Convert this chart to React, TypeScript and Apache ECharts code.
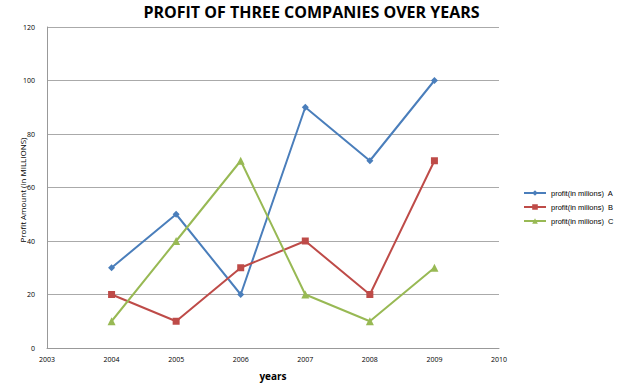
import React, { useEffect, useRef } from "react";
import * as echarts from "echarts";

const years = [2004, 2005, 2006, 2007, 2008, 2009];
const profitA = [30, 50, 20, 90, 70, 100];
const profitB = [20, 10, 30, 40, 20, 70];
const profitC = [10, 40, 70, 20, 10, 30];
const seriesNames = ["profit(in milions)  A", "profit(in milions)  B", "profit(in milions)  C"];
const colors = ["#4A7EBB", "#BE4B48", "#98B954"];

export default function App() {
  const ref = useRef<HTMLDivElement>(null);
  useEffect(() => {
    document.body.style.margin = "0";
    const chart = echarts.init(ref.current!, null, { renderer: "svg" });
    const mk = (vals: number[]) => vals.map((v, i) => [years[i], v]);
    const symbols = ["diamond", "rect", "triangle"];
    const sizes = [7, 7, 8];
    chart.setOption({
      animation: false,
      textStyle: { fontFamily: "Open Sans" },
      title: {
        text: "PROFIT OF THREE COMPANIES OVER YEARS",
        left: "center",
        top: -1,
        textStyle: { fontSize: 16, fontWeight: "bold", color: "#000", fontFamily: "Open Sans" },
      },
      graphic: [
        {
          type: "text",
          x: 22,
          y: 190,
          rotation: Math.PI / 2,
          style: {
            text: "Profit Amount (in MILLIONS)",
            fontSize: 8,
            fontFamily: "Open Sans",
            fill: "#000",
            textAlign: "center",
            textVerticalAlign: "middle",
          },
        },
      ],
      grid: { left: 47, right: 124, top: 27, bottom: 39, containLabel: false, outerBoundsMode: "none" },
      legend: {
        orient: "vertical",
        left: 518,
        top: 184,
        itemGap: 6,
        itemWidth: 22,
        itemHeight: 7,
        textStyle: { fontSize: 7.5, color: "#000", fontFamily: "Liberation Sans" },
        data: seriesNames,
      },
      xAxis: {
        type: "value",
        min: 2003,
        max: 2010,
        interval: 1,
        name: "years",
        nameLocation: "middle",
        nameGap: 23,
        nameTextStyle: { fontSize: 10, fontWeight: "bold", color: "#000" },
        axisLine: { show: true, lineStyle: { color: "#999", width: 1 } },
        axisTick: { show: false },
        splitLine: { show: false },
        axisLabel: { fontSize: 7, color: "#000", margin: 8, formatter: (v: number) => String(v) },
      },
      yAxis: {
        type: "value",
        min: 0,
        max: 120,
        interval: 20,
        axisLine: { show: true, lineStyle: { color: "#999", width: 1 } },
        axisTick: { show: false },
        splitLine: { show: true, lineStyle: { color: "#aaa", width: 1 } },
        axisLabel: { fontSize: 7, color: "#000", margin: 12 },
      },
      series: [profitA, profitB, profitC].map((d, i) => ({
        name: seriesNames[i],
        type: "line",
        data: mk(d),
        symbol: symbols[i],
        symbolSize: sizes[i],
        lineStyle: { color: colors[i], width: 2 },
        itemStyle: { color: colors[i] },
      })),
    });
    return () => chart.dispose();
  }, []);
  return <div ref={ref} style={{ width: 623, height: 387 }} />;
}
